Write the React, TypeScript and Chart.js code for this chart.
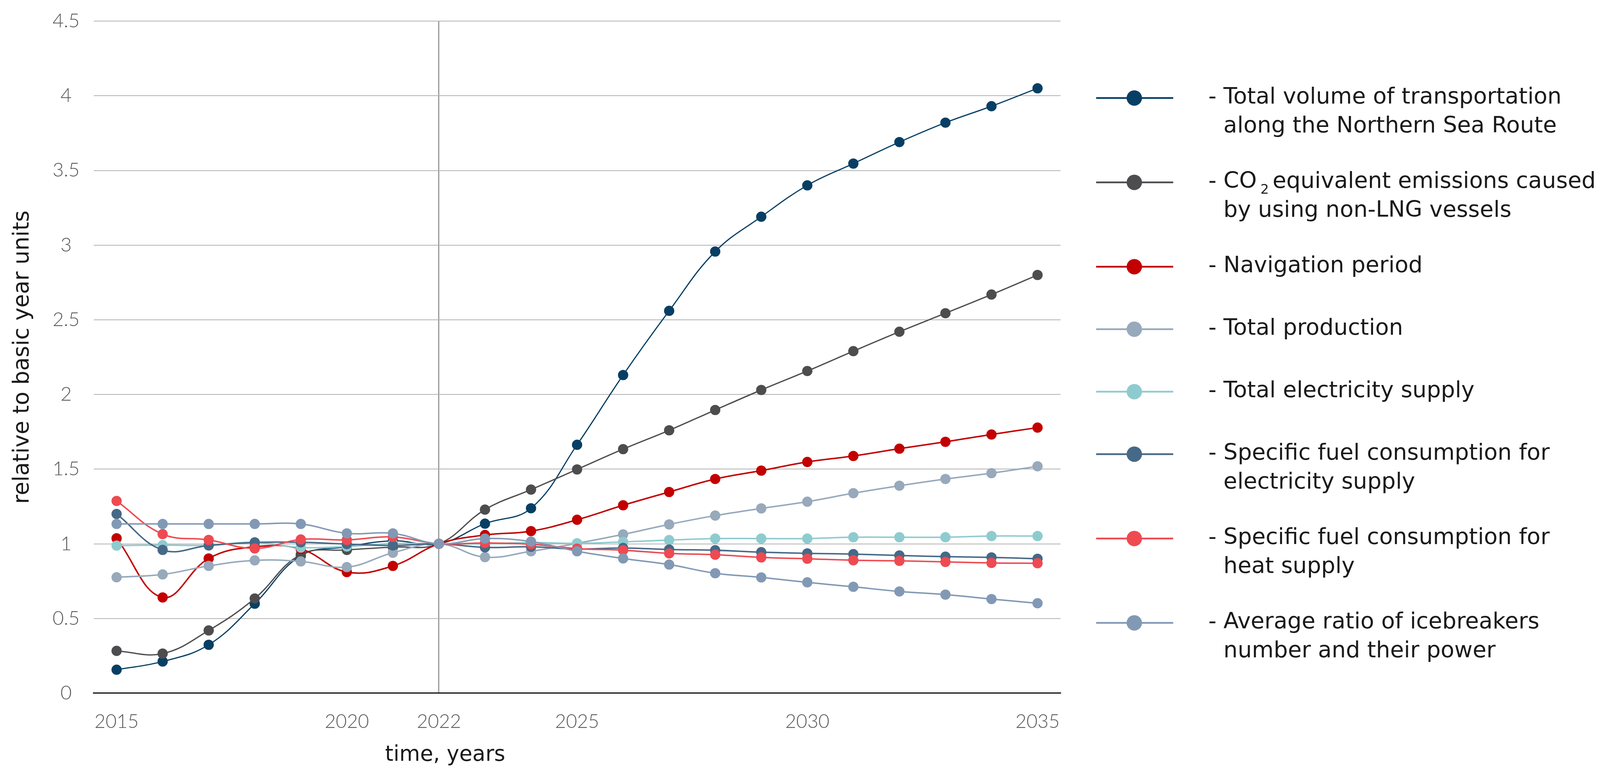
import React, { useEffect, useRef } from 'react';
import { Chart, registerables } from 'chart.js';

Chart.register(...registerables);

// ---------- data ----------
const years = [
  '2015', '2016', '2017', '2018', '2019', '2020', '2021', '2022', '2023', '2024', '2025',
  '2026', '2027', '2028', '2029', '2030', '2031', '2032', '2033', '2034', '2035',
];
const shownYearTicks = ['2015', '2020', '2022', '2025', '2030', '2035'];
const baseYear = '2022';

const totalVolume = [0.157, 0.212, 0.324, 0.599, 0.92, 0.98, 1.02, 1.0, 1.135, 1.238, 1.663, 2.13, 2.56, 2.957, 3.19, 3.4, 3.546, 3.69, 3.82, 3.93, 4.05];
const co2Emissions = [0.283, 0.265, 0.42, 0.634, 0.928, 0.959, 0.978, 1.0, 1.229, 1.363, 1.498, 1.634, 1.76, 1.896, 2.03, 2.157, 2.29, 2.42, 2.544, 2.669, 2.8];
const navigationPeriod = [1.037, 0.641, 0.902, 0.98, 0.965, 0.811, 0.852, 1.0, 1.059, 1.085, 1.161, 1.258, 1.347, 1.434, 1.49, 1.548, 1.588, 1.637, 1.683, 1.732, 1.778];
const totalProduction = [0.776, 0.795, 0.852, 0.889, 0.882, 0.844, 0.94, 1.0, 0.911, 0.95, 1.003, 1.063, 1.13, 1.189, 1.237, 1.282, 1.339, 1.389, 1.434, 1.473, 1.519];
const electricitySupply = [0.988, 0.991, 0.99, 1.011, 0.975, 0.982, 1.002, 1.0, 1.0, 1.008, 1.003, 1.013, 1.025, 1.035, 1.035, 1.035, 1.044, 1.044, 1.044, 1.052, 1.052];
const fuelElectricity = [1.2, 0.959, 0.989, 1.009, 1.01, 0.998, 0.989, 1.0, 0.976, 0.98, 0.965, 0.972, 0.962, 0.957, 0.944, 0.936, 0.931, 0.922, 0.914, 0.909, 0.9];
const fuelHeat = [1.287, 1.065, 1.026, 0.969, 1.029, 1.026, 1.046, 1.0, 1.006, 0.997, 0.968, 0.957, 0.936, 0.927, 0.909, 0.9, 0.89, 0.886, 0.879, 0.872, 0.87];
const icebreakerRatio = [1.133, 1.133, 1.133, 1.133, 1.133, 1.07, 1.07, 1.0, 1.035, 1.015, 0.95, 0.902, 0.861, 0.803, 0.775, 0.742, 0.712, 0.681, 0.66, 0.63, 0.602];

const seriesLabels: string[][] = [
  ['Total volume of transportation', 'along the Northern Sea Route'],
  ['CO\u2082 equivalent emissions caused', 'by using non-LNG vessels'],
  ['Navigation period'],
  ['Total production'],
  ['Total electricity supply'],
  ['Specific fuel consumption for', 'electricity supply'],
  ['Specific fuel consumption for', 'heat supply'],
  ['Average ratio of icebreakers', 'number and their power'],
];
const seriesColors = ['#073f64', '#4d4d4f', '#c30000', '#97a9bb', '#8ecbcf', '#466987', '#ee4a52', '#8299b5'];

const yAxisTitle = 'relative to basic year units';
const xAxisTitle = 'time, years';

const TICK_FONT = 'Lato, "Open Sans", sans-serif';
const TEXT_FONT = '"DejaVu Sans", "Open Sans", sans-serif';

// reference design size
const REF_W = 4360;
const REF_H = 1982;

export default function App() {
  const ref = useRef<HTMLCanvasElement>(null);

  useEffect(() => {
    document.body.style.margin = '0';
    document.body.style.overflow = 'hidden';
    const canvas = ref.current;
    if (!canvas) return;

    const W = window.innerWidth || REF_W;
    const H = window.innerHeight || REF_H;
    canvas.style.width = W + 'px';
    canvas.style.height = H + 'px';
    const sx = W / REF_W;
    const sy = H / REF_H;
    const s = Math.min(sx, sy);
    const X = (v: number) => v * sx;
    const Y = (v: number) => v * sy;

    const series = [totalVolume, co2Emissions, navigationPeriod, totalProduction, electricitySupply, fuelElectricity, fuelHeat, icebreakerRatio];
    const widths = [3.2, 3.5, 4, 4, 4, 4, 4, 4];
    const baseIndex = years.indexOf(baseYear);

    const drawRichText = (ctx: CanvasRenderingContext2D, text: string, x: number, y: number, size: number) => {
      const parts = text.split('\u2082');
      ctx.font = `400 ${size}px ${TEXT_FONT}`;
      ctx.fillText(parts[0], x, y);
      if (parts.length > 1) {
        let cx = x + ctx.measureText(parts[0]).width + 10 * s;
        ctx.font = `400 ${Math.round(size * 0.6)}px ${TEXT_FONT}`;
        ctx.fillText('2', cx, y + 16 * s);
        cx += ctx.measureText('2').width + 10 * s;
        ctx.font = `400 ${size}px ${TEXT_FONT}`;
        ctx.fillText(parts[1].replace(/^\s+/, ''), cx, y);
      }
    };

    const sideLegend = {
      id: 'sideLegend',
      afterDraw(chart: any) {
        const ctx: CanvasRenderingContext2D = chart.ctx;
        ctx.save();
        const fs = 61 * s;
        let yRef = 251;
        seriesLabels.forEach((lines, i) => {
          const color = seriesColors[i];
          const y = Y(yRef);
          ctx.strokeStyle = color;
          ctx.lineWidth = 5 * s;
          ctx.beginPath();
          ctx.moveTo(X(2987), y);
          ctx.lineTo(X(3197), y);
          ctx.stroke();
          ctx.fillStyle = color;
          ctx.beginPath();
          ctx.arc(X(3091), y, 21 * s, 0, Math.PI * 2);
          ctx.fill();
          ctx.fillStyle = '#1a1a1a';
          ctx.textAlign = 'left';
          ctx.textBaseline = 'alphabetic';
          ctx.font = `400 ${fs}px ${TEXT_FONT}`;
          ctx.fillText('-', X(3293), y + Y(14));
          lines.forEach((line, j) => drawRichText(ctx, line, X(3334), y + Y(14 + j * 74), fs));
          yRef += 160 + 56 * (lines.length - 1);
        });
        const xs = chart.scales.x;
        ctx.fillStyle = '#1a1a1a';
        ctx.font = `400 ${58 * s}px ${TEXT_FONT}`;
        ctx.textAlign = 'center';
        ctx.textBaseline = 'middle';
        ctx.fillText(xAxisTitle, xs.getPixelForValue(baseIndex) + X(17), Y(1934));
        ctx.restore();
      },
    };

    const chart = new Chart(canvas, {
      type: 'line',
      data: {
        labels: years,
        datasets: series.map((d, i) => ({
          label: seriesLabels[i].join(' '),
          data: d,
          borderColor: seriesColors[i],
          backgroundColor: seriesColors[i],
          pointBackgroundColor: seriesColors[i],
          pointBorderWidth: 0,
          borderWidth: widths[i] * s,
          pointRadius: 14 * s,
          pointHoverRadius: 14 * s,
          tension: 0.4,
          fill: false,
          order: series.length - 1 - i,
        })),
      },
      options: {
        responsive: false,
        maintainAspectRatio: false,
        animation: false,
        events: [],
        layout: { padding: { left: 0, right: X(REF_W - 2890), top: Y(54), bottom: 0 } },
        plugins: { legend: { display: false }, tooltip: { enabled: false } },
        scales: {
          x: {
            type: 'category',
            offset: true,
            grid: {
              offset: false,
              drawTicks: false,
              lineWidth: 2.5 * s,
              color: (c: any) => (c.index === baseIndex ? '#808080' : 'rgba(0,0,0,0)'),
            },
            border: { display: true, color: '#1a1a1a', width: 3.5 * s },
            ticks: {
              autoSkip: false,
              maxRotation: 0,
              minRotation: 0,
              padding: Y(44),
              color: '#595959',
              font: { family: TICK_FONT, size: 52 * s, weight: '300' },
              callback: (_v: any, i: number) => (shownYearTicks.includes(years[i]) ? years[i] : ''),
            },
            afterFit: (sc: any) => {
              sc.height = Y(REF_H - 1775);
            },
          },
          y: {
            min: 0,
            max: 4.5,
            grid: { color: '#b3b3b3', lineWidth: 2 * s, drawTicks: false },
            border: { display: false },
            ticks: {
              stepSize: 0.5,
              crossAlign: 'center',
              padding: X(38),
              color: '#595959',
              font: { family: TICK_FONT, size: 53 * s, weight: '300', lineHeight: 0.6 },
              callback: (v: any) => String(v),
            },
            title: {
              display: true,
              text: yAxisTitle,
              color: '#1a1a1a',
              font: { family: TEXT_FONT, size: 60 * s, weight: '400' },
              padding: { top: X(26), bottom: 0 },
            },
            afterFit: (sc: any) => {
              sc.width = X(255);
            },
          },
        },
      },
      plugins: [sideLegend],
    } as any);

    return () => chart.destroy();
  }, []);

  return (
    <div style={{ position: 'absolute', left: 0, top: 0, width: '100vw', height: '100vh', background: '#ffffff', overflow: 'hidden' }}>
      <canvas ref={ref} style={{ display: 'block' }} />
    </div>
  );
}
